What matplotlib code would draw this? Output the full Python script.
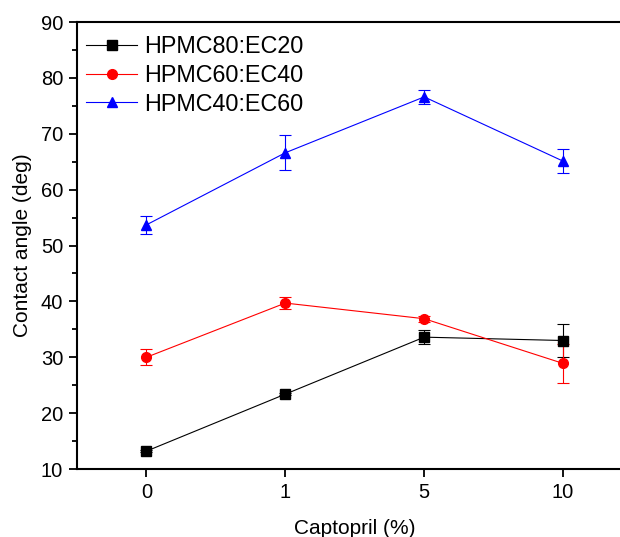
import numpy as np
import matplotlib
matplotlib.use('Agg')
from matplotlib import pyplot as plt
from matplotlib.lines import Line2D
from matplotlib.ticker import MultipleLocator

plt.rcParams['font.family'] = ['Liberation Sans', 'DejaVu Sans']

# data
captopril = ['0', '1', '5', '10']

hpmc80 = [13.2, 23.4, 33.6, 33.0]
hpmc80_err = [0.2, 0.2, 1.2, 2.9]

hpmc60 = [30.0, 39.7, 36.9, 28.9]
hpmc60_err = [1.45, 1.0, 0.5, 3.5]

hpmc40 = [53.7, 66.6, 76.6, 65.1]
hpmc40_err = [1.55, 3.1, 1.3, 2.1]

x = np.arange(len(captopril))

fig = plt.figure(figsize=(6.2, 5.37), dpi=100)
ax = fig.add_axes([0.1242, 0.1266, 0.896, 0.8324])

series = [
    ('HPMC80:EC20', hpmc80, hpmc80_err, 'black', 's', 6.5),
    ('HPMC60:EC40', hpmc60, hpmc60_err, 'red', 'o', 7),
    ('HPMC40:EC60', hpmc40, hpmc40_err, 'blue', '^', 7.5),
]
handles = []
for name, vals, err, col, mk, ms in series:
    ax.errorbar(x, vals, yerr=err, color=col, marker=mk, markersize=ms,
                linewidth=0.8, elinewidth=0.8, capsize=4.5, capthick=0.8)
    handles.append(Line2D([], [], color=col, marker=mk, markersize=ms,
                          linewidth=0.8, label=name))

ax.set_xlim(-0.5, 3.5)
ax.set_ylim(10, 90)
ax.set_xticks(x)
ax.set_xticklabels(captopril)
ax.yaxis.set_major_locator(MultipleLocator(10))
ax.yaxis.set_minor_locator(MultipleLocator(5))
ax.tick_params(axis='both', which='major', direction='out', length=6,
               width=1.3, labelsize=14.5, pad=4)
ax.tick_params(axis='y', which='minor', direction='out', length=3.5, width=1.3)
ax.tick_params(axis='x', which='minor', bottom=False)
for s in ax.spines.values():
    s.set_linewidth(1.5)

ax.set_xlabel('Captopril (%)', fontsize=15, labelpad=12)
ax.set_ylabel('Contact angle (deg)', fontsize=15, labelpad=6)

ax.legend(handles=handles, loc='upper left', frameon=False, fontsize=16.8,
          handlelength=2.16, handletextpad=0.3, labelspacing=0.24,
          borderaxespad=0, bbox_to_anchor=(0.0, 0.991))

fig.savefig('out.png', dpi=100)
